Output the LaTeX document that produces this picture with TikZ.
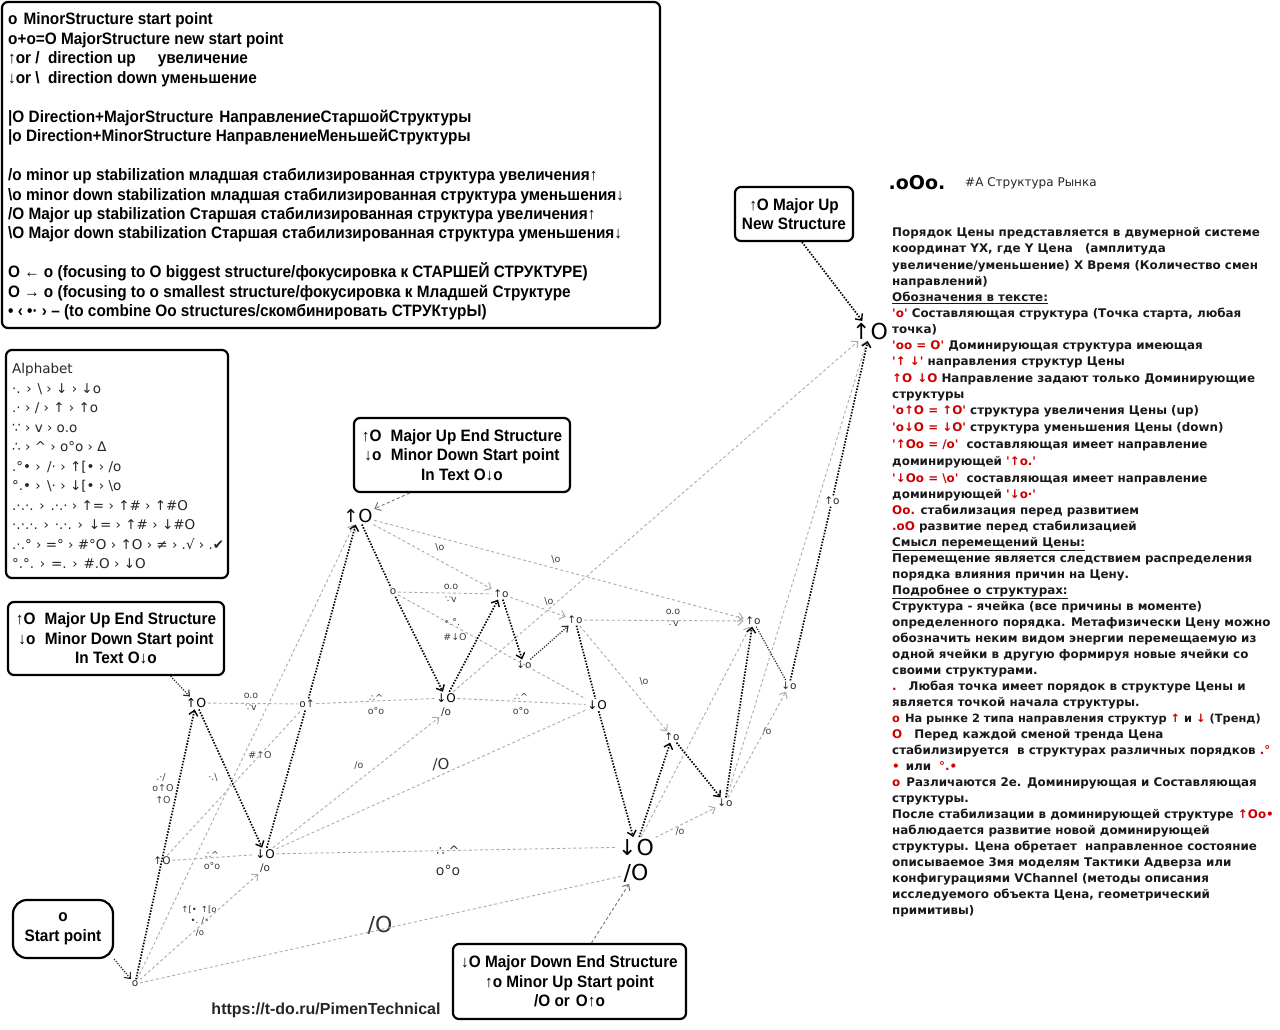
\documentclass[tikz,border=0pt]{standalone}
\usepackage{fontspec}
\setmainfont{DejaVu Sans}
\newfontfamily\bxf{Liberation Sans}[FakeStretch=0.93]
\newfontfamily\lib{Liberation Sans}
\newfontfamily\dvs{DejaVu Sans}
\usetikzlibrary{arrows.meta,calc}
\definecolor{redt}{RGB}{205,0,0}
\definecolor{lgray}{RGB}{172,172,172}
\tikzset{
 frame/.style={draw=black, line width=2.2pt, rounded corners=6pt, inner sep=0pt},
 boxtxt/.style={font=\bxf\bfseries\fontsize{16.5}{19.5}\selectfont, align=center},
 legtxt/.style={anchor=base west, yshift=-6pt, font=\bxf\bfseries\fontsize{16.5}{19.5}\selectfont, inner sep=0pt},
 alphtxt/.style={anchor=base west, yshift=-5pt, font=\dvs\fontsize{13.5}{16}\selectfont, inner sep=0pt, text=black!85},
 rtxt/.style={anchor=base west, yshift=-4.5pt, font=\dvs\bfseries\fontsize{11.9}{14}\selectfont, inner sep=0pt, text=black!90},
 pt/.style={font=\dvs\fontsize{10.5}{12}\selectfont, inner sep=1.5pt, text=black!85},
 ptb/.style={font=\dvs\fontsize{#1}{#1}\selectfont, inner sep=1.5pt, text=black},
 lab/.style={font=\dvs\fontsize{9.5}{10}\selectfont, inner sep=0.5pt, text=black!75},
 labb/.style={font=\dvs\fontsize{#1}{#1}\selectfont, inner sep=0.5pt, text=black!80},
 mainln/.style={draw=black, line width=1.7pt, dash pattern=on 1.5pt off 1.5pt},
 mainarr/.style={mainln, -{Straight Barb[length=5pt,width=9pt,line width=1.4pt]}},
 thinln/.style={draw=black!85, line width=1.2pt, dash pattern=on 1.2pt off 1.4pt},
 thinarr/.style={thinln, -{Straight Barb[length=5pt,width=8pt,line width=1.1pt]}},
 grayln/.style={draw=lgray, line width=0.9pt, dash pattern=on 3pt off 2.5pt},
 grayarr/.style={grayln, -{Straight Barb[length=5pt,width=9pt,line width=1pt]}},
}
\begin{document}
\begin{tikzpicture}[x=1pt,y=-1pt]
\useasboundingbox (0,0) rectangle (1280,1029);
\fill[white] (0,0) rectangle (1280,1029);

% ---------- legend box ----------
\node[frame, minimum width=658pt, minimum height=326pt] (legend) at (331,165) {};
\node[legtxt] (l1) at (8,18) {o\hspace{6pt}MinorStructure start point};
\node[legtxt] (l2) at (8,38) {o+o=O MajorStructure new start point};
\node[legtxt] (l3) at (8,57) {↑or /\hspace{4pt} direction up\hspace{22pt}увеличение};
\node[legtxt] (l4) at (8,77) {↓or \textbackslash\hspace{4pt} direction down уменьшение};
\node[legtxt] (l5) at (8,116) {|O Direction+MajorStructure\hspace{6pt}НаправлениеСтаршойСтруктуры};
\node[legtxt] (l6) at (8,135) {|o Direction+MinorStructure НаправлениеМеньшейСтруктуры};
\node[legtxt] (l7) at (8,174) {/o minor up stabilization младшая стабилизированная структура увеличения↑};
\node[legtxt] (l8) at (8,194) {\textbackslash o minor down stabilization младшая стабилизированная структура уменьшения↓};
\node[legtxt] (l9) at (8,213) {/O Major up stabilization Старшая стабилизированная структура увеличения↑};
\node[legtxt] (l10) at (8,232) {\textbackslash O Major down stabilization Старшая стабилизированная структура уменьшения↓};
\node[legtxt] (l11) at (8,271) {O ← o (focusing to O biggest structure/фокусировка к СТАРШЕЙ СТРУКТУРЕ)};
\node[legtxt] (l12) at (8,291) {O → o (focusing to o smallest structure/фокусировка к Младшей Структуре};
\node[legtxt] (l13) at (8,310) {• ‹ •· › – (to combine Oo structures/скомбинировать СТРУКтурЫ)};

% ---------- alphabet box ----------
\node[frame, minimum width=222pt, minimum height=228pt] (alphabet) at (117,464) {};
\node[alphtxt] (a0) at (12,368) {Alphabet};
\node[alphtxt] (a1) at (12,388) {·. › \textbackslash\ › ↓ › ↓o};
\node[alphtxt] (a2) at (12,407) {.· › / › ↑ › ↑o};
\node[alphtxt] (a3) at (12,427) {∵ › v › o.o};
\node[alphtxt] (a4) at (12,446) {∴ › \textasciicircum\ › o°o › ∆};
\node[alphtxt] (a5) at (12,466) {.°• › \hspace{2pt}/· › ↑[• › /o};
\node[alphtxt] (a6) at (12,485) {°.• › \hspace{2pt}\textbackslash· › ↓[• › \textbackslash o};
\node[alphtxt] (a7) at (12,505) {.·.·. › .·.· › ↑= › ↑\# › ↑\#O};
\node[alphtxt] (a8) at (12,524) {·.·.·. › ·.·. › ↓= › ↑\# › ↓\#O};
\node[alphtxt] (a9) at (12,544) {.·.° › =° › \#°O › ↑O › ≠ › .√ › .✔};
\node[alphtxt] (a10) at (12,563) {°.°. › =. › \#.O › ↓O};

% ---------- callout boxes ----------
\node[frame, boxtxt, minimum width=216pt, minimum height=73pt] (bxL) at (116,638.5)
  {↑O\hspace{5pt} Major Up End Structure\\↓o\hspace{5pt} Minor Down Start point\\In Text O↓o};
\node[frame, boxtxt, minimum width=216pt, minimum height=74pt] (bxM) at (462,455)
  {↑O\hspace{5pt} Major Up End Structure\\↓o\hspace{5pt} Minor Down Start point\\In Text O↓o};
\node[frame, boxtxt, minimum width=118pt, minimum height=54pt] (bxN) at (794,214)
  {↑O Major Up\\New Structure};
\node[frame, boxtxt, rounded corners=14pt, minimum width=100pt, minimum height=58pt] (bxS) at (63,929)
  {o\\Start point};
\node[frame, boxtxt, minimum width=233pt, minimum height=75pt] (bxD) at (569.5,981.5)
  {↓O Major Down End Structure\\↑o Minor Up Start point\\/O or\hspace{6pt}O↑o};
\node[font=\lib\bfseries\fontsize{16}{18}\selectfont, text=black!85] (url) at (326,1010) {https://t-do.ru/PimenTechnical};

% ---------- title ----------
\node[font=\dvs\bfseries\fontsize{19}{20}\selectfont, inner sep=0pt] (title) at (917,183) {.oOo.};
\node[anchor=west, font=\dvs\fontsize{12}{14}\selectfont, inner sep=0pt, text=black!85] (subtitle) at (965,183) {\#А Структура Рынка};

% ---------- right text ----------
\node[rtxt] (r1) at (892,232) {Порядок Цены представляется в двумерной системе};
\node[rtxt] (r2) at (892,248) {координат YX, где Y Цена\hspace{12pt}(амплитуда};
\node[rtxt] (r3) at (892,265) {увеличение/уменьшение) X Время (Количество смен};
\node[rtxt] (r4) at (892,281) {направлений)};
\node[rtxt] (r5) at (892,297) {\underline{Обозначения в тексте:}};
\node[rtxt] (r6) at (892,313) {\textcolor{redt}{'o'} Составляющая структура (Точка старта, любая};
\node[rtxt] (r7) at (892,329) {точка)};
\node[rtxt] (r8) at (892,345) {\textcolor{redt}{'oo = O'} Доминирующая структура имеющая};
\node[rtxt] (r9) at (892,361) {\textcolor{redt}{'↑\hspace{4pt}↓'} направления структур Цены};
\node[rtxt] (r10) at (892,378) {\textcolor{redt}{↑O\hspace{5pt}↓O} Направление задают только Доминирующие};
\node[rtxt] (r11) at (892,394) {структуры};
\node[rtxt] (r12) at (892,410) {\textcolor{redt}{'o↑O = ↑O'} структура увеличения Цены (up)};
\node[rtxt] (r13) at (892,427) {\textcolor{redt}{'o↓O = ↓O'} структура уменьшения Цены (down)};
\node[rtxt] (r14) at (892,444) {\textcolor{redt}{'↑Oo = /o'}\hspace{4pt} составляющая имеет направление};
\node[rtxt] (r15) at (892,461) {доминирующей \textcolor{redt}{'↑o.'}};
\node[rtxt] (r16) at (892,478) {\textcolor{redt}{'↓Oo = \textbackslash o'}\hspace{4pt} составляющая имеет направление};
\node[rtxt] (r17) at (892,494) {доминирующей \textcolor{redt}{'↓o·'}};
\node[rtxt] (r18) at (892,510) {\textcolor{redt}{Oo.} стабилизация перед развитием};
\node[rtxt] (r19) at (892,526) {\textcolor{redt}{.oO} развитие перед стабилизацией};
\node[rtxt] (r20) at (892,542) {\underline{Смысл перемещений Цены:}};
\node[rtxt] (r21) at (892,558) {Перемещение является следствием распределения};
\node[rtxt] (r22) at (892,574) {порядка влияния причин на Цену.};
\node[rtxt] (r23) at (892,590) {\underline{Подробнее о структурах:}};
\node[rtxt] (r24) at (892,606) {Структура - ячейка (все причины в моменте)};
\node[rtxt] (r25) at (892,622) {определенного порядка. Метафизически Цену можно};
\node[rtxt] (r26) at (892,638) {обозначить неким видом энергии перемещаемую из};
\node[rtxt] (r27) at (892,654) {одной ячейки в другую формируя новые ячейки со};
\node[rtxt] (r28) at (892,670) {своими структурами.};
\node[rtxt] (r29) at (892,686) {\textcolor{redt}{.}\hspace{12pt}Любая точка имеет порядок в структуре Цены и};
\node[rtxt] (r30) at (892,702) {является точкой начала структуры.};
\node[rtxt, font=\dvs\bfseries\fontsize{11.4}{14}\selectfont] (r31) at (892,718) {\textcolor{redt}{o}\hspace{5pt}На рынке 2 типа направления структур \textcolor{redt}{↑} и \textcolor{redt}{↓} (Тренд)};
\node[rtxt] (r32) at (892,734) {\textcolor{redt}{O}\hspace{12pt}Перед каждой сменой тренда Цена};
\node[rtxt] (r33) at (892,750) {стабилизируется\hspace{4pt} в структурах различных порядков \textcolor{redt}{.°}};
\node[rtxt] (r34) at (892,766) {\textcolor{redt}{•}\hspace{6pt}или\hspace{8pt}\textcolor{redt}{°.•}};
\node[rtxt] (r35) at (892,782) {\textcolor{redt}{o}\hspace{6pt}Различаются 2е. Доминирующая и Составляющая};
\node[rtxt] (r36) at (892,798) {структуры.};
\node[rtxt] (r37) at (892,814) {После стабилизации в доминирующей структуре \textcolor{redt}{↑Oo•}};
\node[rtxt] (r38) at (892,830) {наблюдается развитие новой доминирующей};
\node[rtxt] (r39) at (892,846) {структуры. Цена обретает\hspace{4pt} направленное состояние};
\node[rtxt] (r40) at (892,862) {описываемое 3мя моделям Тактики Адверза или};
\node[rtxt] (r41) at (892,878) {конфигурациями VChannel (методы описания};
\node[rtxt] (r42) at (892,894) {исследуемого объекта Цена, геометрический};
\node[rtxt] (r43) at (892,910) {примитивы)};

% ---------- diagram points ----------
\node[pt] (S0) at (135,984) {o};
\node[pt] (C) at (162,861) {↑O};
\node[ptb=12.5] (A) at (196,703) {↑O};
\node[ptb=12] (B) at (265,854) {↓O};
\node[pt] (B2) at (265,868) {/o};
\node[pt] (D) at (307,704) {o↑};
\node[ptb=18] (E) at (358,516) {↑O};
\node[pt] (F) at (393,592) {o};
\node[ptb=12] (G) at (446,698) {↓O};
\node[pt] (G2) at (446,712) {/o};
\node[pt] (H) at (501,594) {↑o};
\node[pt] (I) at (524,665) {↓o};
\node[pt] (J) at (575,620) {↑o};
\node[ptb=12] (K) at (597,705) {↓O};
\node[ptb=22] (L) at (636,847) {↓O};
\node[ptb=22] (L2) at (636,873) {/O};
\node[pt] (M) at (672,737) {↑o};
\node[pt] (N) at (725,803) {↓o};
\node[pt] (P) at (753,621) {↑o};
\node[pt] (Q) at (789,686) {↓o};
\node[pt] (R) at (832,501) {↑o};
\node[ptb=22] (T) at (870,331) {↑O};

% ---------- line labels ----------
\node[lab] (k1) at (251,696) {o.o};
\node[lab] (k2) at (251,708) {∵v};
\node[lab] (k3) at (376,698) {∴\textasciicircum};
\node[lab] (k4) at (376,711) {o°o};
\node[lab] (k5) at (521,697) {∴\textasciicircum};
\node[lab] (k6) at (521,711) {o°o};
\node[lab] (k7) at (212,855) {∴\textasciicircum};
\node[lab] (k8) at (212,866) {o°o};
\node[labb=13] (k9) at (448,851) {∴ \textasciicircum};
\node[labb=14] (k10) at (448,870) {o°o};
\node[lab] (k11) at (451,587) {o.o};
\node[lab] (k12) at (451,600) {∵v};
\node[lab] (k13) at (452,622) {•.°.};
\node[lab] (k14) at (455,637) {\#↓O};
\node[lab] (k15) at (440,547) {\textbackslash o};
\node[lab] (k16) at (556,559) {\textbackslash o};
\node[lab] (k17) at (549,601) {\textbackslash o};
\node[lab] (k18) at (673,612) {o.o};
\node[lab] (k19) at (673,624) {∵v};
\node[lab] (k20) at (644,681) {\textbackslash o};
\node[lab] (k21) at (680,831) {/o};
\node[lab] (k22) at (767,731) {/o};
\node[lab] (k23) at (359,765) {/o};
\node[labb=15] (k24) at (441,765) {/O};
\node[labb=22] (k25) at (380,925) {/O};
\node[labb=8.5] (k26) at (199,910) {↑[•\hspace{4pt}↑[o};
\node[labb=8.5] (k27) at (200,921) {•.\hspace{3pt}/•};
\node[labb=8.5] (k28) at (200,933) {/o};
\node[lab] (k29) at (260,755) {\#↑O};
\node[lab] (k30) at (213,777) {·.\textbackslash};
\node[lab] (k31) at (161,777) {.·/};
\node[lab] (k32) at (163,788) {o↑O};
\node[lab] (k33) at (163,800) {↑O};

% ---------- gray connectors ----------
\draw[grayln] (A) -- (D);
\draw[grayln] (D) -- (G);
\draw[grayln] (G) -- (K);
\draw[grayln] (C) -- (B);
\draw[grayln] (B) -- (L);
\draw[grayarr] (S0) -- (E);
\draw[grayarr] (S0) -- (B2);
\draw[grayln] (S0) -- (L2);
\draw[grayln] (C) -- (D);
\draw[grayarr] (B) -- (G2);
\draw[grayln] (B) -- (K);
\draw[grayarr] (G) -- (T);
\draw[grayarr] (E) -- (H);
\draw[grayarr] (E) -- (P);
\draw[grayln] (F) -- (H);
\draw[grayln] (F) -- (K);
\draw[grayarr] (H) -- (J);
\draw[grayarr] (J) -- (P);
\draw[grayarr] (J) -- (M);
\draw[grayarr] (L) -- (N);
\draw[grayarr] (L) -- (P);
\draw[grayarr] (N) -- (Q);
\draw[grayarr] (N) -- (T);

% ---------- main black path ----------
\draw[mainarr] (S0) -- (A);
\draw[mainarr] (A) -- (B);
\draw[mainln] (B) -- (D);
\draw[mainarr] (D) -- (E);
\draw[mainln] (E) -- (F);
\draw[mainarr] (F) -- (G);
\draw[mainarr] (G) -- (H);
\draw[mainarr] (H) -- (I);
\draw[thinarr] (I) -- (J);
\draw[mainln] (J) -- (K);
\draw[mainarr] (K) -- (L);
\draw[mainarr] (L) -- (M);
\draw[mainarr] (M) -- (N);
\draw[mainarr] (N) -- (P);
\draw[thinln] (P) -- (Q);
\draw[mainln] (Q) -- (R);
\draw[mainarr] (R) -- (T);

% ---------- callout connectors ----------
\draw[thinarr] ($(bxL.south)!0.5!(bxL.south east)$) -- (A);
\draw[grayarr, draw=black!55] ($(bxM.south)!0.48!(bxM.south west)$) -- (E);
\draw[mainarr] ($(bxN.south)+(8,0)$) -- (T);
\draw[thinarr] (bxS.south east) -- (S0);
\draw[grayarr, draw=black!55] ($(bxD.north)+(22,0)$) -- (L2);
\end{tikzpicture}
\end{document}
